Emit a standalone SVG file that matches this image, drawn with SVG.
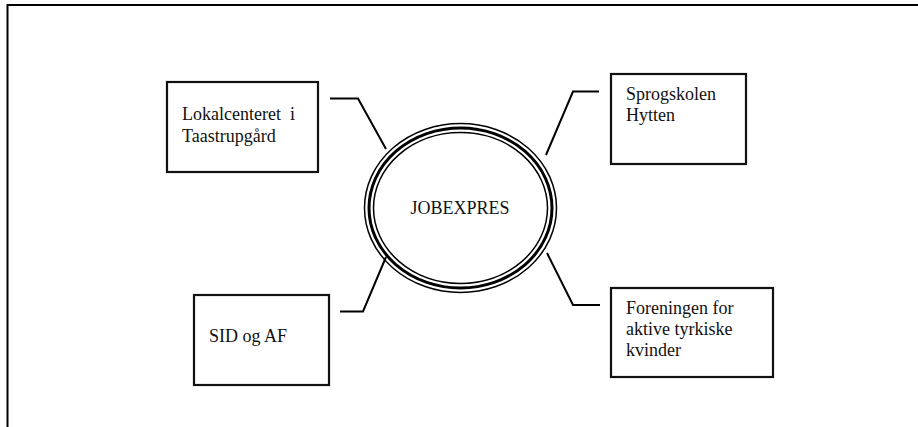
<svg xmlns="http://www.w3.org/2000/svg" width="918" height="427" viewBox="0 0 918 427">
<style>
.box{fill:#fff;stroke:#111;stroke-width:2.2}
.t{font-family:"Liberation Serif","Times New Roman","DejaVu Serif",serif;font-size:18px;fill:#111}
.c{fill:none;stroke:#000;stroke-width:2}
.e{fill:none;stroke:#000}
</style>
<rect width="918" height="427" fill="#fff"/>
<g id="frame"><path d="M7.5 427 V5 H918" fill="none" stroke="#000" stroke-width="2"/></g>
<g id="connectors">
<path class="c" d="M330 98.5 H358 L386 149"/>
<path class="c" d="M599 91.5 H573 L546 155"/>
<path class="c" d="M340 311.5 H363 L386 257"/>
<path class="c" d="M600 305 H573 L547 253"/>
</g>
<g id="jobexpres">
<ellipse class="e" cx="460.5" cy="208" rx="96" ry="84.5" stroke-width="1.5"/>
<ellipse class="e" cx="460.5" cy="208" rx="91.5" ry="80" stroke-width="3"/>
<ellipse class="e" cx="460.5" cy="208" rx="87" ry="75.5" stroke-width="1.5"/>
<text class="t" x="460" y="214" text-anchor="middle">JOBEXPRES</text>
</g>
<g id="lokalcenteret">
<rect class="box" x="167" y="82" width="151" height="90"/>
<text class="t" x="182" y="119.5" xml:space="preserve">Lokalcenteret  i</text>
<text class="t" x="182" y="141.5">Taastrupgård</text>
</g>
<g id="sprogskolen">
<rect class="box" x="611" y="74" width="135" height="90"/>
<text class="t" x="626" y="99.5">Sprogskolen</text>
<text class="t" x="626" y="120.5">Hytten</text>
</g>
<g id="sid">
<rect class="box" x="194" y="295" width="135" height="90"/>
<text class="t" x="209" y="341.5">SID og AF</text>
</g>
<g id="foreningen">
<rect class="box" x="611" y="288" width="162" height="89"/>
<text class="t" x="626" y="313.5">Foreningen for</text>
<text class="t" x="626" y="334.5">aktive tyrkiske</text>
<text class="t" x="626" y="355.5">kvinder</text>
</g>
</svg>
